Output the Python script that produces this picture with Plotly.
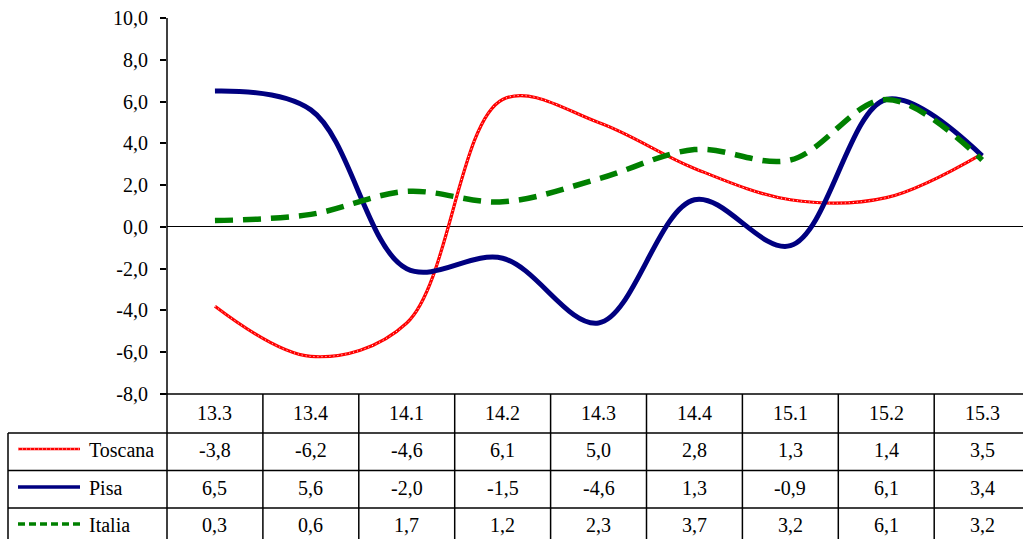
import plotly.graph_objects as go

categories = ["13.3", "13.4", "14.1", "14.2", "14.3", "14.4", "15.1", "15.2", "15.3"]
toscana = [-3.8, -6.2, -4.6, 6.1, 5.0, 2.8, 1.3, 1.4, 3.5]
pisa = [6.5, 5.6, -2.0, -1.5, -4.6, 1.3, -0.9, 6.1, 3.4]
italia = [0.3, 0.6, 1.7, 1.2, 2.3, 3.7, 3.2, 6.1, 3.2]
series_names = ["Toscana", "Pisa", "Italia"]
y_ticks = [-8, -6, -4, -2, 0, 2, 4, 6, 8, 10]
y_tick_labels = ["-8,0", "-6,0", "-4,0", "-2,0", "0,0", "2,0", "4,0", "6,0", "8,0", "10,0"]

W, H = 1023, 539
ML, MT, MB = 167, 18, 145
PW = W - ML
PH = H - MT - MB
COLW = 95.9
FONT = "Liberation Serif"

def px_x(p):
    return (p - ML) / PW

def px_y(p):
    return (H - MB - p) / PH

def fmt(v):
    return f"{v:.1f}".replace(".", ",")

idx = list(range(len(categories)))
fig = go.Figure()

fig.add_trace(go.Scatter(x=idx, y=toscana, mode="lines", line=dict(color="#FF0000", width=3.2, shape="spline"),
                         showlegend=False, hoverinfo="skip"))
fig.add_trace(go.Scatter(x=idx, y=toscana, mode="lines", line=dict(color="white", width=1, dash="1px,3px", shape="spline"),
                         showlegend=False, hoverinfo="skip"))
fig.add_trace(go.Scatter(x=idx, y=pisa, mode="lines", line=dict(color="#000080", width=5, shape="spline"),
                         showlegend=False, hoverinfo="skip"))
fig.add_trace(go.Scatter(x=idx, y=italia, mode="lines", line=dict(color="#008000", width=5.5, dash="18px,10px", shape="spline"),
                         showlegend=False, hoverinfo="skip"))

shapes = []
LC = "black"
LW = 1.5
shapes.append(dict(type="line", xref="paper", yref="paper", x0=0, x1=0, y0=1, y1=px_y(H + 5),
                   line=dict(color=LC, width=LW)))
shapes.append(dict(type="line", xref="paper", yref="paper", x0=px_x(161), x1=1.01, y0=px_y(394), y1=px_y(394),
                   line=dict(color=LC, width=LW)))
for yy in [433, 470.5, 508]:
    shapes.append(dict(type="line", xref="paper", yref="paper", x0=px_x(8), x1=1.01, y0=px_y(yy), y1=px_y(yy),
                       line=dict(color=LC, width=LW)))
for k in range(1, len(categories) + 1):
    shapes.append(dict(type="line", xref="x", yref="paper", x0=k - 0.5, x1=k - 0.5, y0=px_y(394), y1=px_y(H + 5),
                       line=dict(color=LC, width=LW)))
shapes.append(dict(type="line", xref="paper", yref="paper", x0=px_x(8), x1=px_x(8), y0=px_y(433), y1=px_y(H + 5),
                   line=dict(color=LC, width=LW)))

row_centers = [450, 488, 525]
shapes.append(dict(type="line", xref="paper", yref="paper", x0=px_x(18), x1=px_x(80), y0=px_y(449), y1=px_y(449),
                   line=dict(color="#FF0000", width=2.5)))
shapes.append(dict(type="line", xref="paper", yref="paper", x0=px_x(18), x1=px_x(80), y0=px_y(449), y1=px_y(449),
                   line=dict(color="white", width=0.8, dash="1px,3px")))
shapes.append(dict(type="line", xref="paper", yref="paper", x0=px_x(18), x1=px_x(80), y0=px_y(487), y1=px_y(487),
                   line=dict(color="#000080", width=3.5)))
shapes.append(dict(type="line", xref="paper", yref="paper", x0=px_x(18), x1=px_x(80), y0=px_y(524), y1=px_y(524),
                   line=dict(color="#008000", width=3.5, dash="7px,4px")))

annotations = []
for i, c in enumerate(categories):
    annotations.append(dict(x=i, y=px_y(413), xref="x", yref="paper", text=c, showarrow=False,
                            font=dict(family=FONT, size=20, color="black"), xanchor="center", yanchor="middle"))
for rc, name, vals in zip(row_centers, series_names, [toscana, pisa, italia]):
    annotations.append(dict(x=px_x(87), y=px_y(rc), xref="paper", yref="paper", text=name, showarrow=False,
                            font=dict(family=FONT, size=20, color="black"), xanchor="left", yanchor="middle"))
    for i, v in enumerate(vals):
        annotations.append(dict(x=i, y=px_y(rc), xref="x", yref="paper", text=fmt(v),
                                showarrow=False, font=dict(family=FONT, size=20, color="black"),
                                xanchor="center", yanchor="middle"))

fig.update_layout(
    width=W, height=H,
    margin=dict(l=ML, r=0, t=MT, b=MB, pad=0),
    paper_bgcolor="white", plot_bgcolor="white",
    showlegend=False,
    shapes=shapes,
    annotations=annotations,
    xaxis=dict(range=[-0.5, -0.5 + PW / COLW], showticklabels=False, showgrid=False, zeroline=False,
               showline=False, ticks=""),
    yaxis=dict(range=[-8, 10], tickvals=y_ticks, ticktext=y_tick_labels, ticks="outside", ticklen=6,
               tickcolor="black", tickwidth=1.5, showgrid=False, showline=False,
               zeroline=True, zerolinecolor="black", zerolinewidth=1.2,
               tickfont=dict(family=FONT, size=20, color="black"), ticklabelstandoff=8),
)

fig.write_html("out.html")
